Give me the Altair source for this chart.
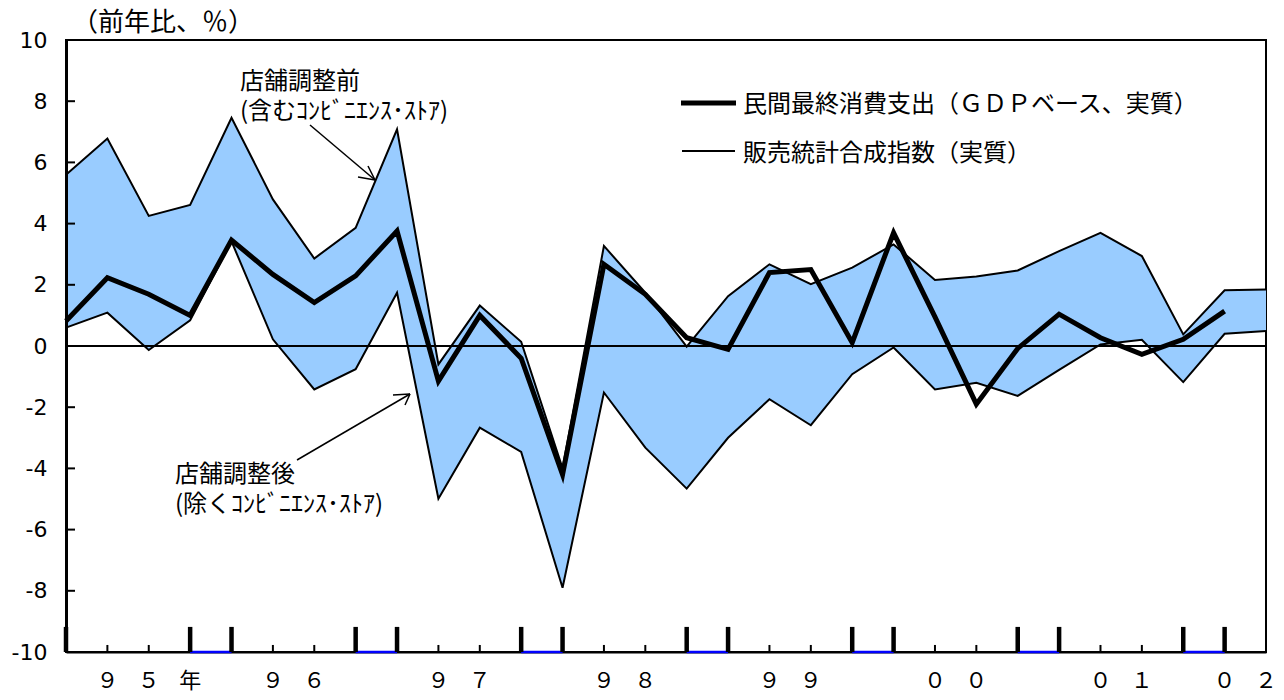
import altair as alt
import pandas as pd

# ---- data ----
quarter = list(range(30))  # 1995 Q1 ... 2002 Q2
upper_before = [5.60, 6.78, 4.25, 4.61, 7.46, 4.79, 2.86, 3.86, 7.08, -0.60,
                1.32, 0.14, -4.00, 3.27, 1.74, -0.02, 1.63, 2.67, 2.02, 2.56,
                3.32, 2.16, 2.27, 2.47, 3.10, 3.70, 2.94, 0.38, 1.82, 1.85]
lower_after = [0.60, 1.09, -0.13, 0.84, 3.42, 0.22, -1.42, -0.76, 1.74, -4.99,
               -2.67, -3.46, -7.90, -1.52, -3.32, -4.66, -3.00, -1.74, -2.59, -0.92,
               -0.05, -1.42, -1.20, -1.63, -0.78, 0.05, 0.20, -1.18, 0.40, 0.49]
gdp_consumption = [0.82, 2.23, 1.69, 1.00, 3.46, 2.34, 1.42, 2.29, 3.76, -1.15,
                   1.00, -0.40, -4.20, 2.67, 1.69, 0.27, -0.11, 2.40, 2.50, 0.11,
                   3.70, 0.95, -1.90, -0.08, 1.04, 0.27, -0.27, 0.22, 1.14]

y_tick_values = [-10, -8, -6, -4, -2, 0, 2, 4, 6, 8, 10]
year_boundary_ticks = [0, 3, 4, 7, 8, 11, 12, 15, 16, 19, 20, 23, 24, 27, 28]
blue_spans_from = [3, 7, 11, 15, 19, 23, 27]
blue_spans_to = [4, 8, 12, 16, 20, 24, 28]
year_label_text = ["９", "５", "年", "９", "６", "９", "７", "９", "８", "９", "９",
                   "０", "０", "０", "１", "０", "２"]
year_label_pos = [1, 2, 3, 5, 6, 9, 10, 13, 14, 17, 18, 21, 22, 25, 26, 28, 29]

series_gdp = "民間最終消費支出（ＧＤＰベース、実質）"
series_sales = "販売統計合成指数（実質）"
title_text = "（前年比、％）"
ann_before = ["店舗調整前", "(含むｺﾝﾋﾞﾆｴﾝｽ･ｽﾄｱ)"]
ann_after = ["店舗調整後", "(除くｺﾝﾋﾞﾆｴﾝｽ･ｽﾄｱ)"]

# ---- layout ----
W, H = 1200, 612
JP = "Noto Sans CJK JP"
NUM = "Liberation Sans, Arial, Noto Sans CJK JP"

xs = alt.Scale(domain=[0, 29], nice=False, zero=False)
ys = alt.Scale(domain=[-10, 10], nice=False, zero=False)
x_axis = alt.Axis(labels=False, ticks=False, grid=False, title=None,
                  domainColor="black", domainWidth=2, zindex=0)
y_axis = alt.Axis(values=y_tick_values, ticks=False, tickSize=0, grid=False, title=None,
                  domainColor="black", domainWidth=3, labelFont="DejaVu Sans",
                  labelFontSize=22, labelColor="black", labelPadding=19, zindex=1,
                  labelExpr="'' + datum.value")


def X(f):
    return alt.X(f, type="quantitative", scale=xs, axis=x_axis)


def Y(f):
    return alt.Y(f, type="quantitative", scale=ys, axis=y_axis)


band = pd.DataFrame({"q": quarter, "upper": upper_before, "lower": lower_after})
gdf = pd.DataFrame({"q": quarter[:len(gdp_consumption)], "gdp": gdp_consumption})

area = alt.Chart(band).mark_area(color="#99CCFF", opacity=1).encode(
    x=X("q"), y=Y("upper"), y2="lower")
upper_line = alt.Chart(band).mark_line(color="black", strokeWidth=2).encode(
    x=X("q"), y=Y("upper"))
lower_line = alt.Chart(band).mark_line(color="black", strokeWidth=2).encode(
    x=X("q"), y=Y("lower"))
gdp_line = alt.Chart(gdf).mark_line(color="black", strokeWidth=5,
                                    strokeJoin="miter").encode(
    x=X("q"), y=Y("gdp"))
zero = alt.Chart(pd.DataFrame({"v": [0]})).mark_rule(color="black", strokeWidth=2).encode(
    y=Y("v"))

# inward y ticks
yt = pd.DataFrame({"v": y_tick_values[1:]})
y_ticks = alt.Chart(yt).mark_rule(color="black", strokeWidth=2).encode(
    y=Y("v"), x=alt.value(0), x2=alt.value(9))

# x ticks
small_q = [q for q in quarter if q not in year_boundary_ticks]
st = pd.DataFrame({"q": small_q, "b": [-10] * len(small_q), "t": [-9.77] * len(small_q)})
small_ticks = alt.Chart(st).mark_rule(color="black", strokeWidth=2).encode(
    x=X("q"), y=Y("b"), y2="t")
bt = pd.DataFrame({"q": year_boundary_ticks, "b": [-10] * len(year_boundary_ticks),
                   "t": [-9.18] * len(year_boundary_ticks)})
big_ticks = alt.Chart(bt).mark_rule(color="black", strokeWidth=4.5).encode(
    x=X("q"), y=Y("b"), y2="t")
bl = pd.DataFrame({"a": blue_spans_from, "b": blue_spans_to, "v": [-10] * len(blue_spans_from)})
blue = alt.Chart(bl).mark_rule(color="#0000FF", strokeWidth=2.5).encode(
    x=X("a"), x2="b", y=Y("v"))

# year labels under the axis
yl = pd.DataFrame({"q": year_label_pos, "t": year_label_text})
year_labels = alt.Chart(yl).mark_text(font=NUM, fontSize=22, color="black",
                                      baseline="middle", align="center").encode(
    x=X("q"), y=alt.value(H + 29), text="t:N")

# free texts (pixel positions relative to plot area)
texts = pd.DataFrame({
    "t": [title_text, ann_before[0], ann_before[1], ann_after[0], ann_after[1],
          series_gdp, series_sales],
    "px": [6, 174, 174, 109, 109, 677, 677],
    "py": [-17, 42, 72, 435, 465, 65, 114],
    "fs": [26, 24, 24, 24, 24, 24, 24],
})
text_layer = alt.Chart(texts).mark_text(font=JP, color="black", align="left",
                                        baseline="middle").encode(
    x=alt.X("px:Q", scale=None, axis=None),
    y=alt.Y("py:Q", scale=None, axis=None),
    size=alt.Size("fs:Q", scale=None, legend=None),
    text="t:N")

# arrows (pixel positions relative to plot area)
arrows = pd.DataFrame({
    "x1": [244, 309, 309, 231, 344, 344],
    "y1": [85, 140, 140, 420, 354, 354],
    "x2": [309, 292, 302, 344, 327, 339],
    "y2": [140, 137, 126, 354, 355, 365],
})
arrow_layer = alt.Chart(arrows).mark_rule(color="black", strokeWidth=1.5).encode(
    x=alt.X("x1:Q", scale=None, axis=None), y=alt.Y("y1:Q", scale=None, axis=None),
    x2="x2:Q", y2="y2:Q")

# legend samples
leg = pd.DataFrame({"x1": [615, 616], "x2": [670, 669], "y": [63, 111], "w": [5, 2]})
leg_lines = alt.Chart(leg).mark_rule(color="black").encode(
    x=alt.X("x1:Q", scale=None, axis=None), x2="x2:Q",
    y=alt.Y("y:Q", scale=None, axis=None),
    strokeWidth=alt.StrokeWidth("w:Q", scale=None, legend=None))

chart = alt.layer(
    area, upper_line, lower_line, zero, gdp_line, y_ticks, blue, small_ticks, big_ticks,
    year_labels, text_layer, arrow_layer, leg_lines
).properties(
    width=W, height=H,
    autosize=alt.AutoSizeParams(type="none"),
    padding={"left": 58, "top": 32, "right": 10, "bottom": 40},
    background="white",
).configure_view(stroke="black", strokeWidth=2)

chart.save("out.html", embed_options={"renderer": "svg", "actions": False})
